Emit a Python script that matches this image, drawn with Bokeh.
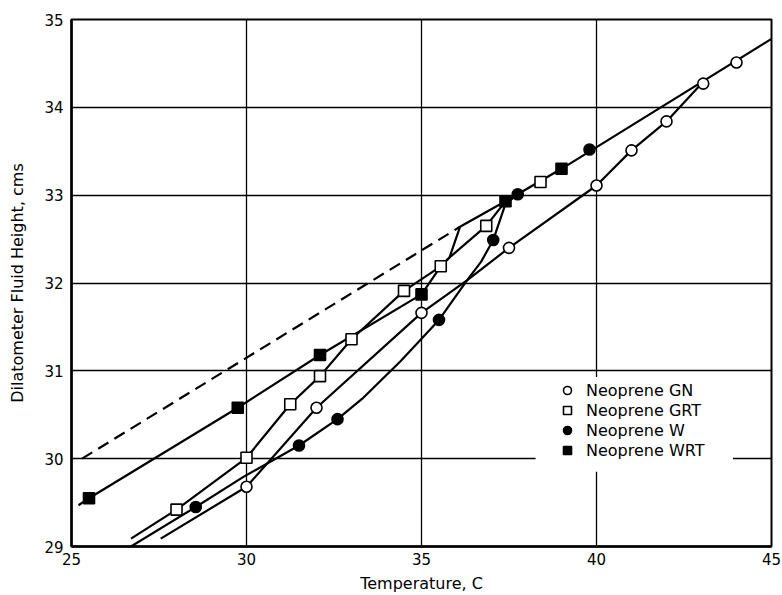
from bokeh.plotting import figure
from bokeh.models import Range1d, FixedTicker, Legend, LegendItem, BoxAnnotation
from bokeh.embed import file_html
from bokeh.resources import INLINE

# ---- data ----
x_ticks = [25, 30, 35, 40, 45]
y_ticks = [29, 30, 31, 32, 33, 34, 35]

# measured points
gn_x = [30.0, 32.0, 35.0, 37.5, 40.0, 41.0, 42.0, 43.05, 44.0]
gn_y = [29.68, 30.58, 31.66, 32.40, 33.11, 33.51, 33.84, 34.27, 34.51]

grt_x = [28.0, 30.0, 31.25, 32.1, 33.0, 34.5, 35.55, 36.85, 38.4]
grt_y = [29.42, 30.01, 30.62, 30.94, 31.36, 31.91, 32.19, 32.65, 33.15]

w_x = [28.55, 31.5, 32.6, 35.5, 37.05, 37.75, 39.8]
w_y = [29.45, 30.15, 30.45, 31.58, 32.49, 33.01, 33.52]

wrt_x = [25.5, 29.75, 32.1, 35.0, 37.4, 39.0]
wrt_y = [29.55, 30.58, 31.18, 31.87, 32.93, 33.30]

# hand-drawn curves through the points
gn_curve_x = [27.55, 30.0, 32.0, 35.0, 36.3, 37.5, 40.0, 41.0, 42.0, 43.05]
gn_curve_y = [29.09, 29.68, 30.58, 31.66, 32.03, 32.40, 33.11, 33.51, 33.84, 34.29]

grt_curve_x = [26.7, 28.0, 30.0, 31.25, 32.1, 33.0, 34.5, 35.55, 35.8, 36.85, 37.4]
grt_curve_y = [29.09, 29.42, 30.01, 30.62, 30.94, 31.36, 31.91, 32.19, 32.29, 32.65, 32.93]

w_curve_x = [26.7, 28.55, 29.9, 31.5, 32.6, 33.3, 34.4, 35.5, 36.3, 36.7, 37.05, 37.4, 37.75]
w_curve_y = [29.0, 29.45, 29.79, 30.15, 30.45, 30.68, 31.11, 31.58, 32.03, 32.24, 32.49, 32.9, 33.01]

wrt_curve_x = [25.2, 25.5, 29.75, 32.1, 35.0, 35.55, 35.8, 36.1, 37.4, 39.0, 45.0]
wrt_curve_y = [29.47, 29.55, 30.58, 31.18, 31.87, 32.19, 32.29, 32.64, 32.93, 33.30, 34.78]

dashed_x = [25.3, 36.1]
dashed_y = [30.0, 32.64]

FONT = "DejaVu Sans"

p = figure(width=782, height=595,
           x_range=Range1d(25, 45), y_range=Range1d(29, 35),
           output_backend="svg", toolbar_location=None,
           min_border_left=71, min_border_right=11,
           min_border_top=19, min_border_bottom=47,
           background_fill_color="white", border_fill_color="white")

p.outline_line_color = "black"
p.outline_line_width = 2

for ax, ticks in ((p.xaxis, x_ticks), (p.yaxis, y_ticks)):
    ax.ticker = FixedTicker(ticks=ticks)
    ax.major_tick_line_color = None
    ax.minor_tick_line_color = None
    ax.major_tick_out = 0
    ax.major_tick_in = 0
    ax.axis_line_color = "black"
    ax.axis_line_width = 2.5
    ax.major_label_text_font = FONT
    ax.major_label_text_font_size = "15px"
    ax.major_label_text_color = "black"
    ax.axis_label_text_font = FONT
    ax.axis_label_text_font_size = "16px"
    ax.axis_label_text_font_style = "normal"
    ax.axis_label_text_color = "black"

p.xaxis.axis_label = "Temperature, C"
p.yaxis.axis_label = "Dilatometer Fluid Height, cms"
p.xaxis.major_label_standoff = 6
p.yaxis.major_label_standoff = 8
p.xaxis.axis_label_standoff = 6
p.yaxis.axis_label_standoff = 14

p.xgrid.ticker = FixedTicker(ticks=x_ticks)
p.ygrid.ticker = FixedTicker(ticks=y_ticks)
for g in (p.xgrid, p.ygrid):
    g.grid_line_color = "black"
    g.grid_line_width = 1.3

LW = 2.2
p.line(dashed_x, dashed_y, line_color="black", line_width=LW, line_dash="12 7")
p.line(gn_curve_x, gn_curve_y, line_color="black", line_width=LW)
p.line(grt_curve_x, grt_curve_y, line_color="black", line_width=LW)
p.line(w_curve_x, w_curve_y, line_color="black", line_width=LW)
p.line(wrt_curve_x, wrt_curve_y, line_color="black", line_width=LW)

r_gn = p.scatter(gn_x, gn_y, marker="circle", size=11, fill_color="white",
                 line_color="black", line_width=1.6)
r_grt = p.scatter(grt_x, grt_y, marker="square", size=11, fill_color="white",
                  line_color="black", line_width=1.6)
r_w = p.scatter(w_x, w_y, marker="circle", size=11, fill_color="black",
                line_color="black", line_width=1.6)
r_wrt = p.scatter(wrt_x, wrt_y, marker="square", size=11, fill_color="black",
                  line_color="black", line_width=1.6)

# white area behind the legend (covers the grid like in the reference)
p.add_layout(BoxAnnotation(left=38.26, right=43.9, bottom=29.85, top=30.93,
                           fill_color="white", fill_alpha=1.0, line_color=None,
                           level="annotation"))

legend = Legend(items=[
    LegendItem(label="Neoprene GN", renderers=[r_gn]),
    LegendItem(label="Neoprene GRT", renderers=[r_grt]),
    LegendItem(label="Neoprene W", renderers=[r_w]),
    LegendItem(label="Neoprene WRT", renderers=[r_wrt]),
], location=(486, 86), border_line_color=None,
    background_fill_color="white", background_fill_alpha=1.0,
    label_text_font=FONT, label_text_font_size="16px", label_text_color="black",
    glyph_width=20, glyph_height=20, label_height=20, spacing=0,
    padding=10, label_standoff=9, margin=0)
p.add_layout(legend)

open("out.html", "w").write(file_html(p, INLINE))
